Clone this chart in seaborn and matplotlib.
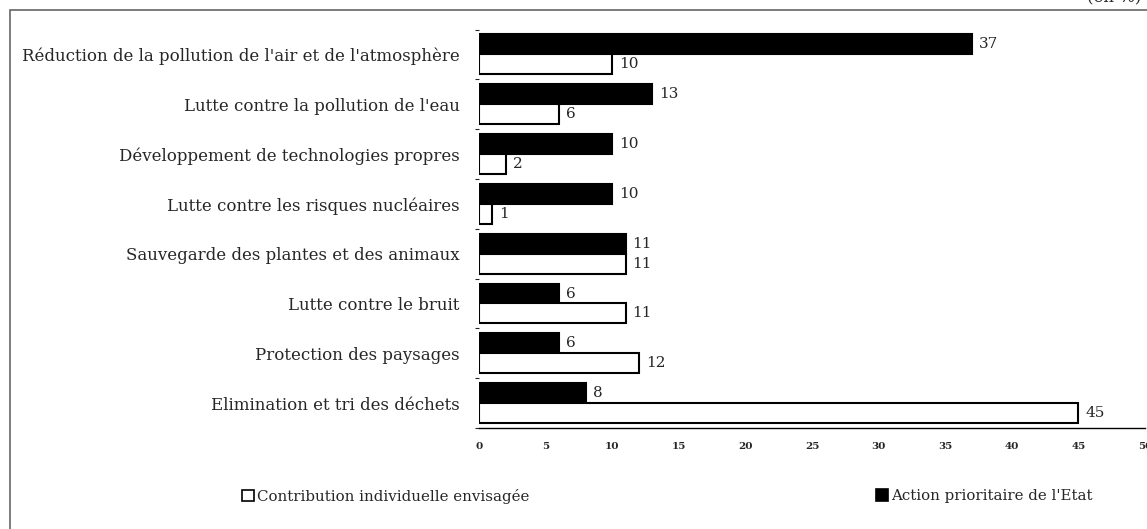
import pandas as pd
import matplotlib.pyplot as plt
import seaborn as sns
from matplotlib.patches import Rectangle, Patch

categories = [
    "Réduction de la pollution de l'air et de l'atmosphère",
    "Lutte contre la pollution de l'eau",
    "Développement de technologies propres",
    "Lutte contre les risques nucléaires",
    "Sauvegarde des plantes et des animaux",
    "Lutte contre le bruit",
    "Protection des paysages",
    "Elimination et tri des déchets",
]
action_etat = [37, 13, 10, 10, 11, 6, 6, 8]
contribution = [10, 6, 2, 1, 11, 11, 12, 45]

lab_action = "Action prioritaire de l'Etat"
lab_contrib = "Contribution individuelle envisagée"

df = pd.DataFrame({
    'cat': categories * 2,
    'val': action_etat + contribution,
    'serie': [lab_action] * len(categories) + [lab_contrib] * len(categories),
})

sns.set_style('white')
plt.rcParams['font.family'] = ['DejaVu Serif']

fig = plt.figure(figsize=(11.47, 5.29), dpi=100)
ax = fig.add_axes([479 / 1147, 1 - 428 / 529, (1145 - 479) / 1147, (428 - 29.5) / 529])

sns.barplot(data=df, y='cat', x='val', hue='serie', orient='h',
            hue_order=[lab_action, lab_contrib],
            palette={lab_action: 'black', lab_contrib: 'white'},
            edgecolor='black', linewidth=1.5, width=0.8, ax=ax, legend=False)

for cont in ax.containers:
    ax.bar_label(cont, padding=5, fontsize=11)

ax.set_xlim(0, 50)
ax.set_ylim(len(categories) - 0.5, -0.5)
ax.set_xticks(range(0, 51, 5))
ax.set_xlabel('')
ax.set_ylabel('')
ax.tick_params(axis='x', labelsize=7.5, direction='inout', length=4, width=0.8, pad=8)
for t in ax.get_xticklabels():
    t.set_fontweight('bold')
ax.tick_params(axis='y', labelsize=12, length=0, pad=14)
ax.set_yticks([i + 0.5 for i in range(-1, len(categories))], minor=True)
ax.tick_params(axis='y', which='minor', length=3, width=0.8, direction='out', left=True)
ax.set_yticklabels(categories)
for t in ax.get_yticklabels():
    t.set_y(t.get_position()[1])
    t.set_va('center_baseline')

for s in ['top', 'right', 'left']:
    ax.spines[s].set_visible(False)
ax.spines['bottom'].set_color('black')
ax.spines['bottom'].set_linewidth(1)

# cadre autour de la figure
fig.patches.append(Rectangle((10 / 1147, -0.1), 1.2, 1 - 10 / 529 + 0.1,
                             transform=fig.transFigure, fill=False,
                             edgecolor='#666666', linewidth=1.2))
fig.text(0.995, 1.004, "(en %)", ha='right', va='center', fontsize=12)

h1 = Patch(facecolor='white', edgecolor='black', linewidth=1.2)
h2 = Patch(facecolor='black', edgecolor='black', linewidth=1.2)
fig.legend([h1], [lab_contrib], frameon=False,
           loc='center left', bbox_to_anchor=(228 / 1147, 1 - 496 / 529),
           handlelength=0.8, handleheight=0.8, handletextpad=0.25, fontsize=10.8)
fig.legend([h2], [lab_action], frameon=False,
           loc='center left', bbox_to_anchor=(862 / 1147, 1 - 496 / 529),
           handlelength=0.8, handleheight=0.8, handletextpad=0.25, fontsize=10.8)

fig.savefig('out.png', dpi=100)
